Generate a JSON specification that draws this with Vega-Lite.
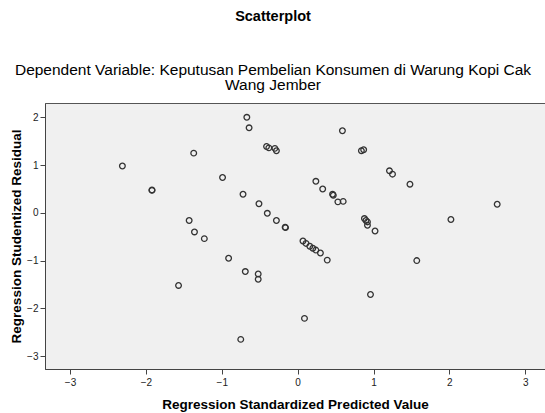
{
  "$schema": "https://vega.github.io/schema/vega-lite/v6.json",
  "autosize": "none",
  "width": 500,
  "height": 266,
  "padding": {"left": 45, "top": 103, "right": 0, "bottom": 44},
  "background": "white",
  "title": {
    "text": "Scatterplot",
    "subtitle": ["Dependent Variable: Keputusan Pembelian Konsumen di Warung Kopi Cak", "Wang Jember"],
    "anchor": "middle",
    "frame": "group",
    "dx": -22,
    "font": "Liberation Sans",
    "fontSize": 14.5,
    "fontWeight": "bold",
    "color": "#000000",
    "subtitleFont": "Liberation Sans",
    "subtitleFontSize": 15.5,
    "subtitleColor": "#000000",
    "subtitleLineHeight": 15,
    "subtitlePadding": 38,
    "offset": 9
  },
  "config": {
    "view": {"fill": "#F0F0F0", "stroke": "#555555", "strokeWidth": 1}
  },
  "data": {
    "values": [
      {"predicted": -2.31, "residual": 0.98},
      {"predicted": -1.92, "residual": 0.47},
      {"predicted": -1.92, "residual": 0.48},
      {"predicted": -1.37, "residual": 1.25},
      {"predicted": -0.67, "residual": 2.00},
      {"predicted": -0.64, "residual": 1.78},
      {"predicted": -0.99, "residual": 0.74},
      {"predicted": -0.72, "residual": 0.39},
      {"predicted": -0.51, "residual": 0.19},
      {"predicted": -0.40, "residual": -0.01},
      {"predicted": -0.28, "residual": -0.16},
      {"predicted": -0.165, "residual": -0.30},
      {"predicted": -0.16, "residual": -0.31},
      {"predicted": -1.43, "residual": -0.16},
      {"predicted": -1.36, "residual": -0.40},
      {"predicted": -1.23, "residual": -0.54},
      {"predicted": -0.91, "residual": -0.95},
      {"predicted": -0.69, "residual": -1.23},
      {"predicted": -0.52, "residual": -1.28},
      {"predicted": -0.52, "residual": -1.39},
      {"predicted": -1.57, "residual": -1.52},
      {"predicted": -0.75, "residual": -2.65},
      {"predicted": -0.41, "residual": 1.39},
      {"predicted": -0.38, "residual": 1.36},
      {"predicted": -0.30, "residual": 1.35},
      {"predicted": -0.28, "residual": 1.30},
      {"predicted": 0.59, "residual": 1.72},
      {"predicted": 0.84, "residual": 1.30},
      {"predicted": 0.87, "residual": 1.32},
      {"predicted": 1.21, "residual": 0.88},
      {"predicted": 1.25, "residual": 0.81},
      {"predicted": 1.48, "residual": 0.60},
      {"predicted": 0.24, "residual": 0.66},
      {"predicted": 0.33, "residual": 0.50},
      {"predicted": 0.46, "residual": 0.39},
      {"predicted": 0.47, "residual": 0.37},
      {"predicted": 0.53, "residual": 0.23},
      {"predicted": 0.60, "residual": 0.24},
      {"predicted": 2.63, "residual": 0.18},
      {"predicted": 2.02, "residual": -0.14},
      {"predicted": 0.07, "residual": -0.59},
      {"predicted": 0.11, "residual": -0.64},
      {"predicted": 0.16, "residual": -0.70},
      {"predicted": 0.20, "residual": -0.74},
      {"predicted": 0.24, "residual": -0.78},
      {"predicted": 0.30, "residual": -0.84},
      {"predicted": 0.39, "residual": -0.99},
      {"predicted": 0.88, "residual": -0.12},
      {"predicted": 0.90, "residual": -0.16},
      {"predicted": 0.92, "residual": -0.19},
      {"predicted": 0.92, "residual": -0.26},
      {"predicted": 1.02, "residual": -0.38},
      {"predicted": 1.57, "residual": -1.00},
      {"predicted": 0.96, "residual": -1.71},
      {"predicted": 0.09, "residual": -2.21}
    ]
  },
  "mark": {
    "type": "point",
    "shape": "circle",
    "filled": false,
    "size": 32,
    "stroke": "#333333",
    "strokeWidth": 1.3,
    "opacity": 1
  },
  "encoding": {
    "x": {
      "field": "predicted",
      "type": "quantitative",
      "scale": {"domain": [-3.33, 3.26], "nice": false, "zero": false},
      "axis": {
        "values": [-3, -2, -1, 0, 1, 2, 3],
        "title": "Regression Standardized Predicted Value",
        "grid": false,
        "domainColor": "#444444",
        "tickColor": "#444444",
        "tickSize": 5,
        "labelFont": "Liberation Sans",
        "labelFontSize": 10,
        "labelColor": "#222222",
        "labelPadding": 3,
        "titleFont": "Liberation Sans",
        "titleFontSize": 13.5,
        "titleFontWeight": "bold",
        "titleColor": "#000000",
        "titlePadding": 10
      }
    },
    "y": {
      "field": "residual",
      "type": "quantitative",
      "scale": {"domain": [-3.27, 2.30], "nice": false, "zero": false},
      "axis": {
        "values": [-3, -2, -1, 0, 1, 2],
        "title": "Regression Studentized Residual",
        "grid": false,
        "domainColor": "#444444",
        "tickColor": "#444444",
        "tickSize": 5,
        "labelFont": "Liberation Sans",
        "labelFontSize": 10,
        "labelColor": "#222222",
        "labelPadding": 2,
        "titleFont": "Liberation Sans",
        "titleFontSize": 13.5,
        "titleFontWeight": "bold",
        "titleColor": "#000000",
        "titlePadding": 3
      }
    }
  }
}
